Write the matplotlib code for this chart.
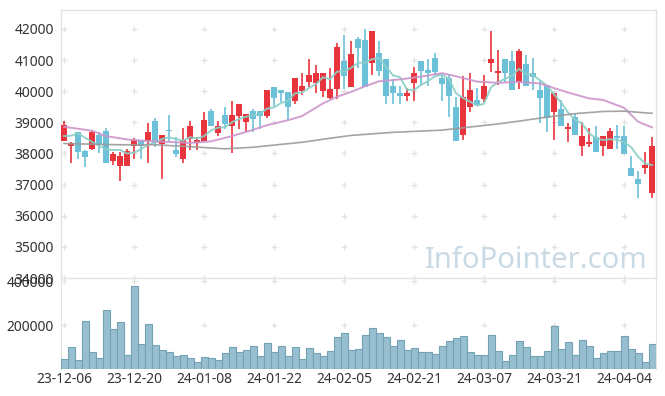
import numpy as np
import pandas as pd
import matplotlib
matplotlib.use("Agg")
import matplotlib.pyplot as plt

plt.rcParams['font.family'] = ['Noto Sans', 'DejaVu Sans']

# daily candles (index 0 = 23-12-06)
opens = [38410, 38250, 38680, 38090, 38160, 38610, 38710, 37760, 37600, 37600,
         38250, 38430, 38410, 39040, 38320, 38730, 38110, 37810, 38450, 38340,
         38410, 39360, 38670, 39230, 38890, 39210, 39020, 39360, 39360, 39210,
         40130, 40040, 39960, 39700, 40020, 40310, 40270, 40020, 39790, 40060,
         40970, 40150, 41680, 41650, 40920, 41240, 41030, 40170, 39930, 39860,
         40270, 40970, 40680, 41060, 40430, 40410, 39500, 38610, 39480, 39720,
         39750, 40920, 40580, 41040, 40970, 40310, 40870, 40580, 40040, 40200,
         39340, 39430, 38780, 39160, 38250, 38300, 38520, 38240, 38160, 38540,
         38560, 37520, 37170, 37550, 36720]
highs = [39050, 38360, 38700, 38100, 38750, 38680, 38810, 38060, 38060, 38160,
         38490, 38430, 38970, 39150, 38610, 39230, 38540, 38810, 39050, 38540,
         39320, 39430, 39050, 39500, 39690, 39590, 39260, 39430, 39360, 40040,
         40130, 40040, 39960, 40410, 40580, 41030, 40830, 40580, 40740, 41540,
         41820, 41630, 41750, 41990, 41940, 41620, 41030, 40380, 40170, 40090,
         40790, 40970, 41030, 41220, 40550, 40550, 39820, 40490, 40580, 40100,
         40520, 41940, 41320, 41040, 41290, 41370, 41160, 41060, 40360, 40200,
         39930, 39720, 38980, 39270, 39020, 38810, 38870, 38560, 38820, 38910,
         38870, 37930, 37430, 38060, 38520]
lows = [38400, 37710, 37810, 37570, 38110, 38000, 37710, 37630, 37110, 37600,
        37810, 37810, 37710, 38220, 37170, 38380, 37890, 37700, 38110, 38110,
        38410, 38890, 38560, 38780, 38000, 38780, 38680, 38700, 38780, 39130,
        39520, 39660, 39070, 39590, 39880, 40130, 39950, 39800, 39740, 39740,
        40060, 40150, 40750, 40130, 40520, 40490, 39580, 39580, 39580, 39690,
        39690, 40200, 40170, 40520, 39690, 39170, 38400, 38430, 39330, 39570,
        39650, 40630, 40200, 40300, 40040, 40070, 40170, 40040, 38970, 38700,
        38420, 38890, 38370, 38610, 37920, 38220, 38060, 37920, 38160, 38160,
        37980, 37280, 36560, 37350, 36560]
closes = [38910, 38340, 38060, 37890, 38680, 38290, 37710, 37980, 37920, 38090,
          38430, 38250, 38690, 38340, 38610, 38710, 37980, 38430, 38880, 38430,
          39070, 38890, 38880, 38950, 39230, 39590, 39260, 39110, 39210, 40040,
          39790, 39950, 39480, 40410, 40170, 40520, 40580, 40580, 40060, 41410,
          40500, 41200, 41380, 40130, 41940, 40660, 39860, 39950, 39860, 39930,
          40600, 40660, 40580, 40630, 40220, 39860, 38400, 39810, 40040, 39570,
          40170, 41040, 40630, 40600, 40040, 41290, 40170, 40470, 39790, 39150,
          39930, 38890, 38830, 38610, 38560, 38380, 38060, 38560, 38720, 38510,
          37980, 37280, 37010, 37640, 38240]
volumes = [44000, 98600, 41000, 216800, 75900, 48600, 266800, 180400, 212300, 62300,
           375900, 112300, 203200, 107700, 85000, 75900, 57700, 62300, 48600, 30500,
           53200, 48600, 39500, 71400, 98600, 75900, 85000, 103200, 57700, 116800,
           75900, 103200, 57700, 98600, 44000, 94100, 71400, 57700, 80000, 144000,
           162000, 85000, 89000, 153000, 185000, 162000, 144000, 103000, 130000, 85000,
           94000, 76000, 76000, 67000, 103000, 126000, 139000, 148000, 76000, 62000,
           62000, 153000, 80000, 35000, 62000, 126000, 99000, 58000, 58000, 80000,
           194000, 89000, 121000, 62000, 130000, 103000, 49000, 71000, 80000, 80000,
           148000, 89000, 71000, 30000, 112000]

# moving averages: first MA5 points and the MA20 / MA60 lines
ma5_head = [38560, 38570, 38650, 38510]
ma20_idx = [0, 4, 6, 9, 12, 15, 18, 21, 24, 27, 29, 32, 34, 37, 39, 41, 43, 45, 48,
            51, 54, 56, 59, 62, 65, 68, 70, 72, 75, 77, 80, 82, 84]
ma20_val = [38860, 38730, 38560, 38450, 38400, 38370, 38340, 38390, 38560, 38760,
            38910, 39070, 39200, 39610, 39820, 39980, 40160, 40320, 40380, 40470,
            40580, 40480, 40310, 40270, 40300, 40250, 40100, 39960, 39770, 39720,
            39470, 39020, 38840]
ma60_idx = [0, 8, 13, 18, 23, 27, 30, 34, 38, 41, 47, 54, 58, 62, 65, 69, 73, 77, 80, 84]
ma60_val = [38320, 38280, 38280, 38220, 38150, 38200, 38270, 38360, 38490, 38580,
            38680, 38750, 38850, 38950, 39040, 39170, 39280, 39350, 39360, 39290]

tick_pos = [0, 10, 20, 30, 40, 50, 60, 70, 80]
tick_labels = ['23-12-06', '23-12-20', '24-01-08', '24-01-22', '24-02-05',
               '24-02-21', '24-03-07', '24-03-21', '24-04-04']
price_ticks = [34000, 35000, 36000, 37000, 38000, 39000, 40000, 41000, 42000]
vol_ticks = [200000, 400000]

UP = '#e8343c'
DOWN = '#6cc0d8'
GRID = '#e2e2e2'
TXT = '#333333'

o = np.array(opens)
h = np.array(highs)
l = np.array(lows)
c = np.array(closes)
x = np.arange(len(o))
colors = np.where(c >= o, UP, DOWN)

ma5 = pd.Series(c).rolling(5).mean().to_numpy()
ma5[:4] = ma5_head

W, H = 665, 396
fig = plt.figure(figsize=(W / 100, H / 100), dpi=100)
ax = fig.add_axes([61 / W, (H - 278) / H, 595 / W, 268 / H])
axv = fig.add_axes([61 / W, (H - 369) / H, 595 / W, 91 / H])

xlim = (-0.43, 84.57)

# price panel
ax.vlines(x, l, h, colors=colors, linewidth=1.2, zorder=3)
body_bottom = np.minimum(o, c)
body_h = np.maximum(np.abs(c - o), 60)
ax.bar(x, body_h, bottom=body_bottom, width=0.72, color=colors, linewidth=0, zorder=4)
ax.plot(x, ma5, color='#8ccfc8', linewidth=1.4, alpha=0.9, zorder=5)
ax.plot(ma20_idx, ma20_val, color='#cc96cc', linewidth=1.4, alpha=0.9, zorder=5)
ax.plot(ma60_idx, ma60_val, color='#9a9a9a', linewidth=1.2, alpha=0.9, zorder=5)

gx, gy = np.meshgrid(tick_pos, price_ticks)
ax.scatter(gx.ravel(), gy.ravel(), marker='+', s=14, color=GRID, linewidths=0.9, zorder=1)

ax.set_xlim(*xlim)
ax.set_ylim(34000, 42610)
ax.set_xticks([])
ax.set_yticks(price_ticks)
ax.set_yticklabels([str(v) for v in price_ticks])
ax.tick_params(axis='y', length=0, pad=5, labelsize=10, labelcolor=TXT)
for s in ax.spines.values():
    s.set_color('#e3e3e3')
    s.set_linewidth(1)

# watermark, bottom right of the price panel (display coords from bottom-left)
ax.text(648, H - 268, 'InfoPointer.com', transform=None, ha='right', va='baseline',
        fontsize=21, color='#c9dae5', zorder=2)

# volume panel
axv.bar(x, volumes, width=1.0, color='#97bfcf', edgecolor='#73a2b5', linewidth=0.8, zorder=3)
vx, vy = np.meshgrid(tick_pos, vol_ticks)
axv.scatter(vx.ravel(), vy.ravel(), marker='+', s=14, color=GRID, linewidths=0.9, zorder=1)
axv.set_xlim(*xlim)
axv.set_ylim(0, 414000)
axv.set_yticks(vol_ticks)
axv.set_yticklabels([str(v) for v in vol_ticks])
axv.set_xticks(tick_pos)
axv.set_xticklabels(tick_labels)
axv.tick_params(axis='both', length=0, labelsize=10, labelcolor=TXT)
axv.tick_params(axis='y', pad=5)
axv.tick_params(axis='x', pad=2)
axv.patch.set_alpha(0)
for side in ['left', 'right']:
    axv.spines[side].set_color('#e3e3e3')
axv.spines['top'].set_visible(False)
axv.spines['bottom'].set_visible(False)

fig.savefig('out.png', dpi=100)
